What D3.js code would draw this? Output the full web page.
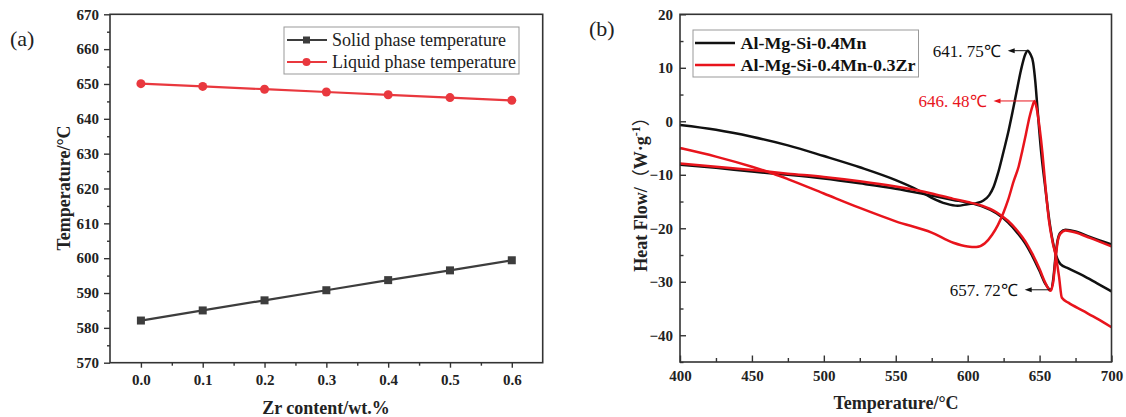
<!DOCTYPE html>
<html>
<head>
<meta charset="utf-8">
<script src="https://cdn.jsdelivr.net/npm/d3@7"></script>
<style>
  body { margin: 0; background: #fff; }
  svg { display: block; }
  text { font-family: "Liberation Serif", "Times New Roman", serif; }
</style>
</head>
<body>
<div id="chart"></div>
<script>
// (a) phase temperatures vs Zr content
const zrContent = [0.0, 0.1, 0.2, 0.3, 0.4, 0.5, 0.6];
const solidTemp = [582.1, 585.0, 587.9, 590.8, 593.7, 596.5, 599.4];
const liquidTemp = [650.1, 649.3, 648.5, 647.7, 646.9, 646.1, 645.3];
const tempTicks = [570, 580, 590, 600, 610, 620, 630, 640, 650, 660, 670];
const zrTicks = [0.0, 0.1, 0.2, 0.3, 0.4, 0.5, 0.6];

// (b) DSC curves, [temperature °C, heat flow W/g]
const mnHeating = [[400,-8.1],[425,-8.7],[450,-9.4],[475,-10.0],[500,-10.7],[525,-11.6],[550,-12.6],[575,-13.9],[590,-14.7],[600,-15.2],[610,-15.9],[620,-17.2],[628,-18.9],[635,-21.0],[640,-22.8],[645,-25.2],[650,-28.0],[654,-30.4],[657.72,-31.5],[659.5,-29.5],[661,-25.5],[662.5,-22.3],[664.5,-20.8],[668,-20.3],[675,-20.6],[685,-21.6],[700,-23.0]];
const mnCooling = [[400,-0.7],[425,-1.6],[450,-2.9],[475,-4.5],[500,-6.5],[525,-8.6],[550,-11.0],[565,-12.8],[575,-14.3],[585,-15.4],[593,-15.8],[600,-15.5],[606,-15.3],[611,-14.8],[615,-13.8],[618,-12.3],[621,-9.8],[625,-5.6],[628,-2.3],[631,1.5],[634,5.5],[637,9.5],[640,12.5],[641.75,13.2],[643.5,12.6],[645.5,11.0],[647,7.5],[648.5,2.5],[651,-5.5],[654,-12.5],[657,-19.0],[660,-23.5],[662.5,-25.8],[664.5,-26.7],[670,-27.5],[680,-28.8],[690,-30.3],[700,-31.8]];
const zrHeating = [[400,-7.9],[425,-8.5],[450,-9.1],[475,-9.8],[500,-10.4],[525,-11.2],[550,-12.2],[575,-13.5],[590,-14.5],[600,-15.1],[610,-15.8],[620,-17.0],[628,-18.6],[635,-20.6],[640,-22.4],[645,-24.8],[650,-27.6],[654,-30.2],[657.6,-31.7],[659.5,-30.0],[661,-26.0],[662.5,-22.6],[664.5,-21.0],[668,-20.4],[675,-20.8],[685,-21.8],[700,-23.4]];
const zrCooling = [[400,-5.0],[425,-6.6],[450,-8.5],[465,-9.8],[475,-10.8],[500,-13.5],[525,-16.2],[550,-18.7],[575,-20.8],[590,-22.7],[600,-23.4],[606,-23.5],[612,-22.8],[617,-21.2],[621,-19.4],[625,-17.0],[628,-14.8],[632,-11.2],[635.5,-8.4],[638,-5.5],[640.5,-2.4],[643,0.8],[645,2.8],[646.48,3.8],[648,2.4],[650,-1.2],[652,-6.0],[654,-12.0],[656.5,-18.5],[659,-22.5],[661.5,-25.5],[663.5,-29.0],[665.5,-33.0],[670,-33.9],[680,-35.4],[690,-36.9],[700,-38.5]];
const flowTicks = [-40, -30, -20, -10, 0, 10, 20];
const dscTempTicks = [400, 450, 500, 550, 600, 650, 700];
// peak annotations: [temperature, heat flow, label, colour]
const peaks = [[641.75, 13.2, "641. 75℃", "#111"], [646.48, 3.8, "646. 48℃", "#e8141c"], [657.72, -31.5, "657. 72℃", "#111"]];

const W = 1126, H = 417;
const svg = d3.select("#chart").append("svg").attr("width", W).attr("height", H);

const FRAME = "#333";
const BLACK = "#111", RED = "#e8141c";
const GREY = "#3d3d3d", LRED = "#e9383e";
const SERIF = "Liberation Serif, Times New Roman, serif";

function styleTicks(g) {
  g.selectAll(".domain").remove();
  g.selectAll(".tick line").attr("stroke", FRAME).attr("stroke-width", 1.4);
  g.selectAll(".tick text").attr("fill", "#222").attr("font-family", SERIF)
    .style("font-family", SERIF).style("font-size", "15px").style("font-weight", "bold");
}

// ---------- panel (a) ----------
const xA = d3.scaleLinear().domain([-0.05, 0.65]).range([110, 542.7]);
const yA = d3.scaleLinear().domain([570, 670]).range([362.7, 14.3]);

const gA = svg.append("g");

// minor ticks
gA.append("g").attr("transform", "translate(110,0)")
  .call(d3.axisLeft(yA).tickValues(d3.range(575, 670, 10)).tickSize(3).tickFormat(""));
gA.append("g").attr("transform", "translate(0,362.7)")
  .call(d3.axisBottom(xA).tickValues(d3.range(0.05, 0.6, 0.1)).tickSize(3).tickFormat(""));
// major ticks
gA.append("g").attr("transform", "translate(110,0)").attr("font-family", SERIF)
  .call(d3.axisLeft(yA).tickValues(tempTicks).tickSize(6).tickPadding(5).tickFormat(d3.format("d")))
  .attr("font-family", SERIF);
gA.append("g").attr("transform", "translate(0,362.7)")
  .call(d3.axisBottom(xA).tickValues(zrTicks).tickSize(5).tickPadding(7).tickFormat(d3.format(".1f")))
  .attr("font-family", SERIF);
styleTicks(gA);

gA.append("rect").attr("x", 110).attr("y", 14.3).attr("width", 542.7 - 110).attr("height", 362.7 - 14.3)
  .attr("fill", "none").attr("stroke", FRAME).attr("stroke-width", 1.6);

const lineA = d3.line().x((d, i) => xA(zrContent[i])).y(d => yA(d));

gA.append("path").datum(solidTemp).attr("d", lineA).attr("fill", "none").attr("stroke", GREY).attr("stroke-width", 2.2);
gA.append("path").datum(liquidTemp).attr("d", lineA).attr("fill", "none").attr("stroke", LRED).attr("stroke-width", 2.2);

gA.selectAll(".sq").data(solidTemp).enter().append("rect")
  .attr("x", (d, i) => xA(zrContent[i]) - 4).attr("y", d => yA(d) - 4)
  .attr("width", 8).attr("height", 8).attr("fill", GREY);
gA.selectAll(".ci").data(liquidTemp).enter().append("circle")
  .attr("cx", (d, i) => xA(zrContent[i])).attr("cy", d => yA(d)).attr("r", 4.5).attr("fill", LRED);

// legend (a)
const legA = gA.append("g");
legA.append("rect").attr("x", 284).attr("y", 27).attr("width", 235).attr("height", 47)
  .attr("fill", "#fff").attr("stroke", "#999").attr("stroke-width", 1);
[["Solid phase temperature", GREY, "sq"], ["Liquid phase temperature", LRED, "ci"]].forEach((e, i) => {
  const y = 40 + i * 22;
  legA.append("line").attr("x1", 287).attr("x2", 327).attr("y1", y).attr("y2", y)
    .attr("stroke", e[1]).attr("stroke-width", 2.2);
  if (e[2] == "sq") legA.append("rect").attr("x", 303).attr("y", y - 3.5).attr("width", 7).attr("height", 7).attr("fill", e[1]);
  else legA.append("circle").attr("cx", 306.5).attr("cy", y).attr("r", 4).attr("fill", e[1]);
  legA.append("text").attr("x", 332).attr("y", y + 6).text(e[0])
    .style("font-size", "18px").attr("fill", "#222");
});

gA.append("text").attr("x", 326).attr("y", 414).attr("text-anchor", "middle")
  .style("font-size", "18px").style("font-weight", "bold").attr("fill", "#222").text("Zr content/wt.%");
gA.append("text").attr("transform", "translate(70,188)rotate(-90)").attr("text-anchor", "middle")
  .style("font-size", "18px").style("font-weight", "bold").attr("fill", "#222").text("Temperature/°C");
gA.append("text").attr("x", 10).attr("y", 46).style("font-size", "22px").attr("fill", "#222").text("(a)");

// ---------- panel (b) ----------
const xB = d3.scaleLinear().domain([400, 700]).range([680, 1111.5]);
const yB = d3.scaleLinear().domain([-45, 20]).range([362, 14.3]);

const gB = svg.append("g");

gB.append("g").attr("transform", "translate(680,0)")
  .call(d3.axisLeft(yB).tickValues(d3.range(-45, 20, 10)).tickSize(-3.5).tickFormat(""));
gB.append("g").attr("transform", "translate(0,362)")
  .call(d3.axisBottom(xB).tickValues(d3.range(425, 700, 50)).tickSize(-4).tickFormat(""));
gB.append("g").attr("transform", "translate(680,0)")
  .call(d3.axisLeft(yB).tickValues(flowTicks).tickSize(-6).tickPadding(7).tickFormat(d3.format("d")))
  .attr("font-family", SERIF);
gB.append("g").attr("transform", "translate(0,362)")
  .call(d3.axisBottom(xB).tickValues(dscTempTicks).tickSize(-6.5).tickPadding(8).tickFormat(d3.format("d")))
  .attr("font-family", SERIF);
styleTicks(gB);

const lineB = d3.line().x(d => xB(d[0])).y(d => yB(d[1])).curve(d3.curveMonotoneX);

[[mnHeating, BLACK], [mnCooling, BLACK], [zrHeating, RED], [zrCooling, RED]].forEach(s => {
  gB.append("path").datum(s[0]).attr("d", lineB).attr("fill", "none")
    .attr("stroke", s[1]).attr("stroke-width", 2.5).attr("stroke-linejoin", "round");
});

gB.append("rect").attr("x", 680).attr("y", 14.3).attr("width", 1111.5 - 680).attr("height", 362 - 14.3)
  .attr("fill", "none").attr("stroke", FRAME).attr("stroke-width", 1.6);

// annotations
const arrowLen = [20, 41, 26];
peaks.forEach((p, i) => {
  const px = xB(p[0]), py = yB(p[1]);
  const x0 = px - 1, x1 = px - arrowLen[i];
  gB.append("line").attr("x1", x0).attr("x2", x1 + 5).attr("y1", py).attr("y2", py)
    .attr("stroke", p[3]).attr("stroke-width", 1);
  gB.append("path").attr("d", `M${x1},${py}L${x1 + 7},${py - 2.5}L${x1 + 7},${py + 2.5}Z`).attr("fill", p[3]);
  gB.append("text").attr("x", x1 - 7).attr("y", py + 6).attr("text-anchor", "end")
    .style("font-size", "17px").attr("fill", p[3]).text(p[2]);
});

// legend (b)
const legB = gB.append("g");
legB.append("rect").attr("x", 693).attr("y", 30).attr("width", 225.5).attr("height", 47)
  .attr("fill", "#fff").attr("stroke", "#999").attr("stroke-width", 1);
[["Al-Mg-Si-0.4Mn", BLACK, 126], ["Al-Mg-Si-0.4Mn-0.3Zr", RED, 175]].forEach((e, i) => {
  const y = 43 + i * 22;
  legB.append("line").attr("x1", 695).attr("x2", 735).attr("y1", y).attr("y2", y)
    .attr("stroke", e[1]).attr("stroke-width", 2.5);
  legB.append("text").attr("x", 740.5).attr("y", y + 6).text(e[0])
    .attr("textLength", e[2]).attr("lengthAdjust", "spacingAndGlyphs")
    .style("font-size", "17px").style("font-weight", "bold").attr("fill", "#111");
});

gB.append("text").attr("x", 896).attr("y", 409).attr("text-anchor", "middle")
  .style("font-size", "18px").style("font-weight", "bold").attr("fill", "#222").text("Temperature/°C");

const yl = gB.append("text").attr("transform", "translate(647,190)rotate(-90)").attr("text-anchor", "middle")
  .style("font-size", "18px").style("font-weight", "bold").attr("fill", "#222");
yl.append("tspan").text("Heat Flow/");
yl.append("tspan").style("font-family", "'Noto Sans CJK SC', sans-serif").style("font-weight", "normal").text("（");
yl.append("tspan").text("W·g");
yl.append("tspan").attr("dy", -7).style("font-size", "12px").text("-1");
yl.append("tspan").attr("dy", 7).style("font-family", "'Noto Sans CJK SC', sans-serif").style("font-weight", "normal").text("）");

gB.append("text").attr("x", 589).attr("y", 36).style("font-size", "22px").attr("fill", "#222").text("(b)");
</script>
</body>
</html>
